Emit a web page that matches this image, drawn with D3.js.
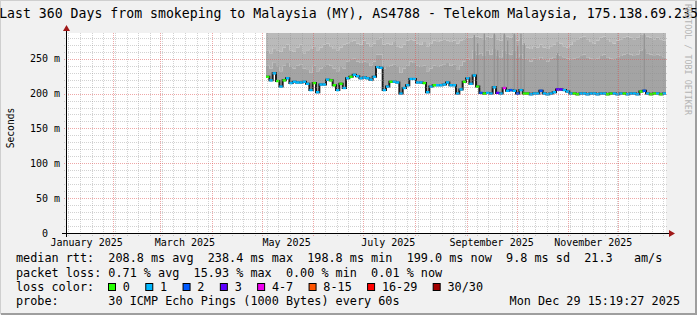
<!DOCTYPE html>
<html>
<head>
<meta charset="utf-8">
<script src="https://cdnjs.cloudflare.com/ajax/libs/d3/7.8.5/d3.min.js"></script>
<style>
body {
    margin: 0;
    background: #f1f1f1;
}
svg {
    display: block;
    font-family: "DejaVu Sans Mono", monospace;
}
</style>
</head>
<body>
<svg id="canvas" width="697" height="315"></svg>
<script>
// graph span (360 days) and the data bins (2 days each, from May 3)
var graphStart = new Date(Date.UTC(2025, 0, 3, 15, 19, 27));
var graphEnd = new Date(Date.UTC(2025, 11, 29, 15, 19, 27));
var firstBin = new Date(Date.UTC(2025, 4, 3, 15, 19, 27));
var binDays = 2;

// median rtt per bin, ms
var medianRtt = [224,219,229,218,210,219,222,215,217,216,
                 216,217,214,205,215,202,213,213,220,219,
                 212,205,214,208,222,224,227,225,222,223,
                 222,220,224,238,237,205,210,217,217,216,
                 200,208,212,221,221,216,216,215,202,210,
                 212,212,212,213,216,212,212,200,206,217,
                 222,214,226,210,201,200,201,200,209,201,
                 200,208,204,205,204,200,205,200,200,199,
                 200,200,204,200,199,200,202,206,206,205,
                 203,200,200,199,200,200,199,200,200,199,
                 200,200,199,200,200,199,200,200,199,200,
                 200,199,203,204,200,199,200,200,199,200];

// smoke: upper edge of the dark (inner) and medium smoke bands, ms
var smokeInner = [240,236,245,238,232,240,244,238,236,240,
                  242,236,234,230,240,232,236,238,242,240,
                  236,232,238,236,246,248,250,246,244,246,
                  244,240,246,256,256,236,238,240,242,238,
                  230,236,240,246,244,240,238,240,232,236,
                  240,238,240,242,244,240,242,234,240,246,
                  250,248,262,256,258,254,262,256,264,254,
                  252,262,258,256,262,252,256,250,248,246,
                  250,248,252,248,246,250,252,256,254,252,
                  250,248,250,252,254,256,252,250,248,250,
                  254,256,252,250,248,252,254,256,258,256,
                  254,256,262,264,258,256,254,256,254,252];
var smokeOuter = [262,258,265,262,260,266,270,262,260,266,
                  270,258,262,264,268,262,266,270,272,268,
                  264,262,266,270,272,274,276,272,270,276,
                  272,268,272,278,280,270,272,270,274,268,
                  266,270,276,278,276,272,270,274,268,272,
                  276,274,276,278,276,274,276,272,276,278,
                  280,280,282,282,280,278,282,280,284,278,
                  276,284,282,280,284,276,280,270,266,264,
                  268,266,270,266,264,268,270,274,272,268,
                  266,270,274,278,280,282,278,274,272,276,
                  280,282,278,274,272,276,278,280,282,280,
                  278,280,284,285,282,280,278,280,278,276];
// darker smoke streaks: [bin, top ms]
var smokeStreaks = [[62,284],[63,272],[65,286],[68,286],[69,262],[71,286],[72,276],
                    [74,286],[75,268],[76,286],[77,272],[87,258],[113,286]];

// lost pings per bin (of 30)
var lossCount = [0,1,1,0,1,0,1,1,1,1,
                 1,1,1,1,0,1,1,1,1,0,
                 0,1,0,1,1,0,1,1,1,1,
                 1,1,1,1,1,1,1,0,1,1,
                 1,1,1,1,1,1,1,0,1,1,
                 0,1,1,1,1,1,1,1,1,0,
                 1,1,1,0,2,0,1,1,1,3,
                 1,4,1,2,1,2,1,0,0,1,
                 1,1,2,1,1,1,1,3,3,1,
                 1,1,0,0,1,1,1,1,1,1,
                 1,1,0,0,1,1,1,0,1,1,
                 1,1,0,2,1,0,0,1,0,1];

var lossLabels = ["0", "1", "2", "3", "4-7", "8-15", "16-29", "30/30"];
var lossColors = ["#26ff00", "#00b8ff", "#0059ff", "#5e00ff", "#ee00ee", "#ff5500", "#ff0000", "#a10000"];
var lossUpper = [0, 1, 2, 3, 7, 15, 29, 30];

var monthLabels = ["January 2025", "March 2025", "May 2025", "July 2025", "September 2025", "November 2025"];
var yTicks = [0, 50, 100, 150, 200, 250];
var yTickLabels = ["0\u00a0\u00a0", "50 m", "100 m", "150 m", "200 m", "250 m"];

var titleText = "Last 360 Days from smokeping to Malaysia (MY), AS4788 - Telekom Malaysia, 175.138.69.235";
var rttStats = ["208.8 ms avg", "238.4 ms max", "198.8 ms min", "199.0 ms now", "9.8 ms sd", "21.3   am/s"];
var lossStats = ["0.71 % avg", "15.93 % max", "0.00 % min", "0.01 % now"];
var probeText = "30 ICMP Echo Pings (1000 Bytes) every 60s";
var stampText = "Mon Dec 29 15:19:27 2025";

var svg = d3.select("#canvas");
var W = 697, H = 315;
var x0 = 66, x1 = 666, yBot = 233, yTop = 33;
var yMax = 286.9;

var x = d3.scaleUtc().domain([graphStart, graphEnd]).range([x0, x1]);
var y = d3.scaleLinear().domain([0, yMax]).range([yBot, yTop]);

// frame
svg.append("rect").attr("width", W).attr("height", H).attr("fill", "#f1f1f1");
svg.append("rect").attr("x", x0).attr("y", yTop).attr("width", x1 - x0).attr("height", yBot - yTop).attr("fill", "#ffffff");
svg.append("path").attr("d", "M0,314 L0,0 L697,0").attr("stroke", "#cfcfcf").attr("stroke-width", 2).attr("fill", "none");
svg.append("path").attr("d", "M1,314 L696,314 L696,1").attr("stroke", "#9e9e9e").attr("stroke-width", 2).attr("fill", "none");

svg.append("clipPath").attr("id", "plotclip")
    .append("rect").attr("x", x0).attr("y", yTop).attr("width", x1 - x0).attr("height", yBot - yTop);

// bins
var bins = medianRtt.map(function(m, i) {
    return {t: d3.utcDay.offset(firstBin, i * binDays), m: m, a: smokeInner[i], b: smokeOuter[i], loss: lossCount[i]};
});
var last = bins[bins.length - 1];
var binsEnd = bins.concat([{t: graphEnd, m: last.m, a: last.a, b: last.b, loss: last.loss}]);

var plot = svg.append("g").attr("clip-path", "url(#plotclip)");

function band(lo, hi, color) {
    plot.append("path")
        .datum(binsEnd)
        .attr("fill", color)
        .attr("d", d3.area().curve(d3.curveStepAfter)
            .x(function(d) { return x(d.t); })
            .y0(function(d) { return y(lo(d)); })
            .y1(function(d) { return y(hi(d)); }));
}
band(function(d) { return d.b; }, function() { return yMax; }, "#bababa");
band(function(d) { return d.a; }, function(d) { return d.b; }, "#afafaf");
band(function(d) { return d.m; }, function(d) { return d.a; }, "#a4a4a4");

plot.selectAll("rect.streak")
    .data(smokeStreaks)
    .enter().append("rect")
    .attr("class", "streak")
    .attr("x", function(d) { return x(bins[d[0]].t) + 1; })
    .attr("width", 1.3)
    .attr("y", function(d) { return y(d[1]); })
    .attr("height", function(d) { return y(bins[d[0]].m) - y(d[1]); })
    .attr("fill", "#939393");

// grid
var grid = svg.append("g");
var majorDates = d3.utcMonth.range(graphStart, graphEnd);
var minorDates = d3.utcSunday.range(graphStart, graphEnd).filter(function(d) { return d.getUTCDate() !== 1; });
var minorVals = d3.range(10, yMax, 10).filter(function(v) { return v % 50 !== 0; });
var majorVals = yTicks.filter(function(v) { return v > 0; });

function px(v) { return Math.round(v) + 0.5; }

grid.selectAll("line.vmin").data(minorDates).enter().append("line")
    .attr("x1", function(d) { return px(x(d)); }).attr("x2", function(d) { return px(x(d)); })
    .attr("y1", yTop).attr("y2", yBot + 3)
    .attr("stroke", "#8f8f8f").attr("stroke-opacity", 0.4).attr("stroke-dasharray", "1,1");
grid.selectAll("line.hmin").data(minorVals).enter().append("line")
    .attr("x1", x0 - 2).attr("x2", x1 + 2)
    .attr("y1", function(d) { return px(y(d)); }).attr("y2", function(d) { return px(y(d)); })
    .attr("stroke", "#8f8f8f").attr("stroke-opacity", 0.4).attr("stroke-dasharray", "1,1");
grid.selectAll("line.vmaj").data(majorDates).enter().append("line")
    .attr("x1", function(d) { return px(x(d)); }).attr("x2", function(d) { return px(x(d)); })
    .attr("y1", yTop).attr("y2", yBot + 3)
    .attr("stroke", "#de5050").attr("stroke-opacity", 0.5).attr("stroke-dasharray", "1,1");
grid.selectAll("line.hmaj").data(majorVals).enter().append("line")
    .attr("x1", x0 - 2).attr("x2", x1 + 2)
    .attr("y1", function(d) { return px(y(d)); }).attr("y2", function(d) { return px(y(d)); })
    .attr("stroke", "#de5050").attr("stroke-opacity", 0.5).attr("stroke-dasharray", "1,1");

// median line: dark step line, loss colour on each bin
plot.append("path")
    .datum(binsEnd)
    .attr("fill", "none")
    .attr("stroke", "#1e1e1e")
    .attr("stroke-width", 2)
    .attr("d", d3.line().curve(d3.curveStepAfter)
        .x(function(d) { return x(d.t); })
        .y(function(d) { return y(d.m); }));

function lossColor(n) {
    for (var i = 0; i < lossUpper.length; i++) {
        if (n <= lossUpper[i]) return lossColors[i];
    }
    return lossColors[lossColors.length - 1];
}
plot.selectAll("line.seg").data(bins).enter().append("line")
    .attr("x1", function(d) { return x(d.t); })
    .attr("x2", function(d) { return x(d3.utcDay.offset(d.t, binDays)); })
    .attr("y1", function(d) { return y(d.m); })
    .attr("y2", function(d) { return y(d.m); })
    .attr("stroke", function(d) { return lossColor(d.loss); })
    .attr("stroke-width", 2.4);

// axes
svg.append("line").attr("x1", x0 - 4).attr("x2", x1 + 4).attr("y1", yBot + 0.5).attr("y2", yBot + 0.5)
    .attr("stroke", "#000").attr("stroke-width", 1);
svg.append("path").attr("d", "M" + (x1 + 3) + "," + (yBot - 3) + " L" + (x1 + 9) + "," + (yBot + 0.5) + " L" + (x1 + 3) + "," + (yBot + 4) + "Z")
    .attr("fill", "#a01818");
svg.append("line").attr("x1", x0 + 0.5).attr("x2", x0 + 0.5).attr("y1", yBot + 4).attr("y2", yTop - 3)
    .attr("stroke", "#000").attr("stroke-width", 1);
svg.append("path").attr("d", "M" + (x0 - 3) + "," + (yTop - 2) + " L" + (x0 + 0.5) + "," + (yTop - 8) + " L" + (x0 + 4) + "," + (yTop - 2) + "Z")
    .attr("fill", "#a01818");

svg.selectAll("text.ylab").data(yTicks).enter().append("text")
    .attr("x", 60)
    .attr("y", function(d) { return y(d); })
    .attr("dy", "0.35em")
    .attr("text-anchor", "end")
    .attr("font-size", "10px")
    .text(function(d, i) { return yTickLabels[i]; });

svg.selectAll("text.xlab").data(monthLabels).enter().append("text")
    .attr("x", function(d, i) { return x(d3.utcDay.offset(new Date(Date.UTC(2025, i * 2, 1)), 15)); })
    .attr("y", 246)
    .attr("text-anchor", "middle")
    .attr("font-size", "10px")
    .text(function(d) { return d; });

svg.append("text")
    .attr("transform", "translate(14,128) rotate(-90)")
    .attr("text-anchor", "middle")
    .attr("font-size", "9.6px")
    .text("Seconds");

// title and watermark
svg.append("text")
    .attr("x", W / 2).attr("y", 18)
    .attr("text-anchor", "middle")
    .attr("font-size", "13.2px")
    .text(titleText);

svg.append("text")
    .attr("transform", "translate(685,4) rotate(90)")
    .attr("font-size", "8.4px")
    .attr("fill", "#b4b4b4")
    .text("RRDTOOL / TOBI OETIKER");

// legend
var legX = 16, fs = 11.8;
function row(yy, s) {
    svg.append("text").attr("x", legX).attr("y", yy)
        .attr("font-size", fs + "px")
        .style("white-space", "pre")
        .text(s);
}
row(262.3, "median rtt:  " + rttStats.join("  "));
row(277, "packet loss: " + lossStats.join("  "));
row(291.3, "loss color:");
row(305, "probe:       " + probeText);
svg.append("text").attr("x", 680).attr("y", 305)
    .attr("text-anchor", "end")
    .attr("font-size", fs + "px")
    .text(stampText);

var cw = 7.08;
var bx = 108.5;
lossLabels.forEach(function(lab, i) {
    svg.append("rect").attr("x", bx).attr("y", 283.5).attr("width", 7).attr("height", 7)
        .attr("fill", lossColors[i]).attr("stroke", "#000").attr("stroke-width", 1);
    svg.append("text").attr("x", bx + 14.3).attr("y", 291.3)
        .attr("font-size", fs + "px")
        .text(lab);
    bx += 14.3 + lab.length * cw + 15.9;
});
</script>
</body>
</html>
